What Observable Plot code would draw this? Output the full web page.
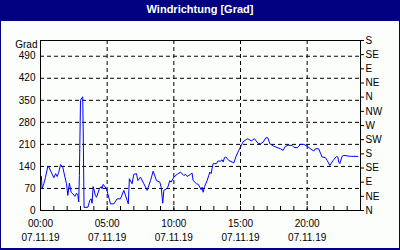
<!DOCTYPE html>
<html>
<head>
<meta charset="utf-8">
<script src="https://cdn.jsdelivr.net/npm/d3@7"></script>
<script src="https://cdn.jsdelivr.net/npm/@observablehq/plot@0.6"></script>
<style>
  html, body { margin: 0; padding: 0; background: #fbfefb; }
  #wrap { width: 400px; height: 250px; box-sizing: border-box; border: 1px solid #000080; border-top: none; border-bottom-width: 2px; background: #fbfefb; overflow: hidden; }
  #title { height: 21px; margin: 0 -1px; background: #000080; color: #fff; font: bold 11px "Liberation Sans", Arial, sans-serif; text-align: center; line-height: 19px; }
  svg { display: block; }
</style>
</head>
<body>
<div id="wrap">
  <div id="title">Windrichtung [Grad]</div>
  <div id="chart"></div>
</div>
<script>
const times = ["00:04","00:07","00:15","00:22","00:33","00:38","00:48","01:00","01:08","01:15","01:22","01:30","01:40","01:50","01:57","02:03","02:10","02:18","02:25","02:35","02:42","02:48","02:52","02:55","03:00","03:07","03:10","03:12","03:16","03:33","03:42","03:48","03:52","03:57","04:07","04:12","04:25","04:33","04:37","04:42","04:57","05:03","05:15","05:30","05:45","06:00","06:15","06:30","06:35","06:40","06:52","07:00","07:12","07:18","07:30","07:45","08:00","08:15","08:27","08:42","08:57","09:03","09:10","09:15","09:27","09:33","09:42","09:48","10:00","10:15","10:30","10:45","10:52","11:00","11:15","11:22","11:27","11:42","11:50","11:57","12:03","12:07","12:12","12:18","12:30","12:37","12:42","12:48","12:52","12:57","13:12","13:18","13:30","13:37","13:42","13:48","13:54","14:07","14:22","14:30","14:39","14:52","15:04","15:10","15:25","15:33","15:48","16:03","16:18","16:30","16:42","16:54","17:03","17:12","17:30","18:00","18:12","18:22","18:37","18:52","19:00","19:15","19:30","19:45","20:00","20:15","20:30","20:37","20:52","21:00","21:07","21:22","21:30","21:42","21:57","22:12","22:18","22:22","22:27","22:37","22:45","23:15","23:48"];
const direction = [108,69,85,104,140,138,122,104,117,108,121,146,138,106,85,48,87,58,53,45,55,48,27,111,350,359,361,265,10,10,32,37,23,76,48,42,69,76,69,83,69,53,21,21,37,37,64,32,21,101,85,115,117,95,106,85,64,95,125,95,90,74,23,64,69,74,95,90,106,115,122,111,115,108,115,119,95,85,83,74,66,74,58,76,95,111,122,117,133,149,149,157,157,161,154,168,170,159,154,151,170,191,207,217,225,228,221,228,214,212,217,231,231,212,204,196,191,204,207,207,201,199,210,210,204,196,189,196,196,182,170,168,159,143,159,172,170,154,149,172,175,172,172];
const dateLabel = "07.11.19";
const leftTicks = [0,70,140,210,280,350,420,490];
const rightTicks = [0,45,90,135,180,225,270,315,360,405,450,495,540];
const rightLabels = ["N","NE","E","SE","S","SW","W","NW","N","NE","E","SE","S"];
const yLabel = "Grad";

const day = Date.UTC(2019, 10, 7);
const toDate = s => { const [h, m] = s.split(":").map(Number); return new Date(day + (h * 60 + m) * 60000); };
const data = times.map((t, i) => ({ t: toDate(t), v: direction[i] }));
const x0 = new Date(day), x1 = new Date(day + 24 * 3600000);
const hourTicks = d3.utcHour.range(x0, new Date(+x1 + 1));
const fiveTicks = d3.utcHour.every(5).range(x0, x1);
const innerGrid = fiveTicks.filter(d => +d !== +x0);

const chart = Plot.plot({
  width: 398, height: 227,
  marginLeft: 39, marginRight: 39, marginTop: 19, marginBottom: 38,
  style: { background: "transparent", fontFamily: "'Liberation Sans', Arial, sans-serif", fontSize: "10px", color: "black" },
  x: { type: "utc", domain: [x0, x1] },
  y: { domain: [0, 540] },
  marks: [
    Plot.gridY(leftTicks.slice(1), { stroke: "black", strokeOpacity: 1, strokeDasharray: "4,3" }),
    Plot.gridX(innerGrid, { stroke: "black", strokeOpacity: 1, strokeDasharray: "4,3" }),
    Plot.frame({ stroke: "black" }),
    Plot.axisX(hourTicks, { tickSize: -4, tickFormat: () => "", label: null }),
    Plot.axisX(fiveTicks, { tickSize: 0, tickPadding: 9, tickFormat: d3.utcFormat("%H:%M"), label: null }),
    Plot.axisX(fiveTicks, { tickSize: 0, tickPadding: 23, tickFormat: () => dateLabel, label: null }),
    Plot.axisY(leftTicks, { anchor: "left", tickSize: 0, tickPadding: 5, label: null }),
    Plot.axisY(rightTicks, { anchor: "right", tickSize: 3, tickPadding: 2, tickFormat: d => rightLabels[rightTicks.indexOf(d)], label: null }),
    Plot.text([yLabel], { frameAnchor: "top-left", textAnchor: "end", lineAnchor: "top", dx: -3, dy: 0, fill: "black" }),
    Plot.line(data, { x: "t", y: "v", stroke: "#0000ff", strokeWidth: 1 })
  ]
});
document.getElementById("chart").appendChild(chart);
</script>
</body>
</html>
